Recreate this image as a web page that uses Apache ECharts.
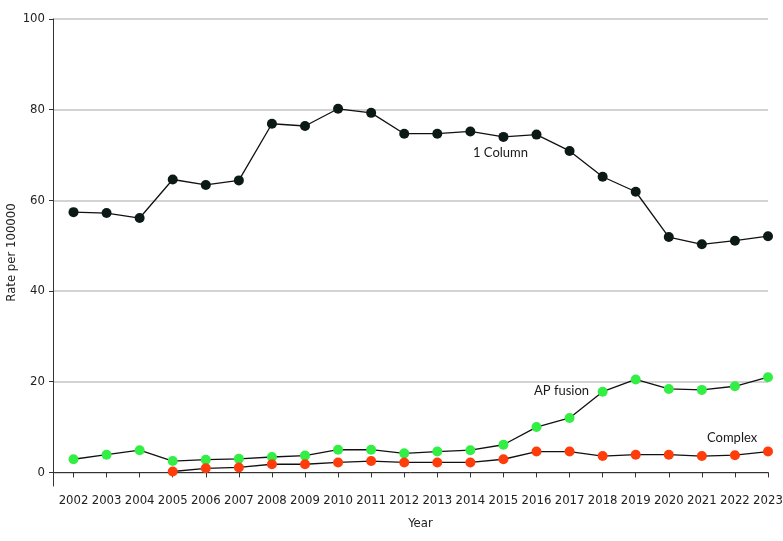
<!DOCTYPE html>
<html>
<head>
<meta charset="utf-8">
<title>Rate per 100000</title>
<script src="https://cdn.jsdelivr.net/npm/echarts@6/dist/echarts.min.js"></script>
<style>
  html, body { margin: 0; padding: 0; background: #fff; }
  #chart { width: 783px; height: 541px; }
</style>
</head>
<body>
<div id="chart"></div>
<script>
const years = [2002, 2003, 2004, 2005, 2006, 2007, 2008, 2009, 2010, 2011, 2012,
  2013, 2014, 2015, 2016, 2017, 2018, 2019, 2020, 2021, 2022, 2023]
const yTicks = [0, 20, 40, 60, 80, 100]

const oneColumn = [57.4, 57.2, 56.1, 64.6, 63.4, 64.4, 76.9, 76.4, 80.2, 79.3, 74.7,
  74.7, 75.2, 74.0, 74.5, 70.9, 65.2, 61.9, 51.9, 50.3, 51.1, 52.1]
const apFusion = [2.9, 3.9, 4.9, 2.5, 2.8, 3.0, 3.4, 3.7, 5.0, 5.0, 4.2,
  4.6, 4.9, 6.1, 10.0, 12.0, 17.8, 20.5, 18.4, 18.2, 19.0, 21.0]
// complex starts in 2005
const complex = [null, null, null, 0.2, 0.9, 1.1, 1.8, 1.8, 2.2, 2.5, 2.2,
  2.2, 2.2, 2.9, 4.6, 4.6, 3.6, 3.9, 3.9, 3.6, 3.8, 4.6]

class ChartHelper {
  #divId = ''
  #chart = null
  #options = {}

  constructor (divId, options = {}) {
    this.#divId = divId
    this.#options = options
  }

  mount () {
    this.#chart = echarts.init(document.getElementById(this.#divId), null, { renderer: 'canvas' })
    this.#chart.setOption(this.#options)
    return this
  }
}

const axisFont = 'DejaVu Sans Condensed, DejaVu Sans, sans-serif'
const noteFont = 'Lato, sans-serif'

const pairs = (values) => years
  .map((y, i) => [y, values[i]])
  .filter(p => p[1] !== null)

const lineSeries = (name, values, color) => ({
  name,
  type: 'line',
  data: pairs(values),
  symbol: 'circle',
  symbolSize: 10,
  itemStyle: { color },
  lineStyle: { color: '#111', width: 1.3 },
  emphasis: { disabled: true }
})

const note = (text, left, top) => ({
  type: 'text',
  left,
  top,
  style: { text, font: '13px ' + noteFont, fill: '#1a1a1a' }
})

const options = {
  animation: false,
  grid: { left: 53, right: 15, top: 19, bottom: 55, outerBoundsMode: 'none' },
  xAxis: {
    type: 'value',
    min: 2001.38,
    max: 2023,
    name: 'Year',
    nameLocation: 'middle',
    nameGap: 31,
    nameMoveOverlap: false,
    nameTextStyle: { fontFamily: axisFont, fontSize: 13, color: '#222', padding: [0, 0, 0, 20] },
    axisLine: { lineStyle: { color: '#333', width: 1 } },
    axisTick: { show: true, length: 5, customValues: years, lineStyle: { color: '#333' } },
    axisLabel: {
      customValues: years,
      margin: 8,
      hideOverlap: false,
      fontFamily: axisFont,
      fontSize: 13,
      color: '#222',
      formatter: v => String(v)
    },
    splitLine: { show: false }
  },
  yAxis: {
    type: 'value',
    min: -3,
    max: 100,
    name: 'Rate per 100000',
    nameLocation: 'middle',
    nameGap: 35,
    nameMoveOverlap: false,
    nameTextStyle: { fontFamily: axisFont, fontSize: 13, color: '#222' },
    axisLine: { show: true, lineStyle: { color: '#333', width: 1 } },
    axisTick: { show: true, length: 4, customValues: yTicks, lineStyle: { color: '#333' } },
    axisLabel: {
      customValues: yTicks,
      margin: 8,
      fontFamily: axisFont,
      fontSize: 13,
      color: '#222'
    },
    splitLine: { show: true, lineStyle: { color: '#c4c4c4', width: 1.5 } }
  },
  series: [
    lineSeries('1 Column', oneColumn, '#0b1a17'),
    lineSeries('AP fusion', apFusion, '#33ee44'),
    lineSeries('Complex', complex, '#ff3d0a')
  ],
  graphic: [
    note('1 Column', 473, 146),
    note('AP fusion', 534, 384),
    note('Complex', 707, 431)
  ]
}

new ChartHelper('chart', options).mount()
</script>
</body>
</html>
